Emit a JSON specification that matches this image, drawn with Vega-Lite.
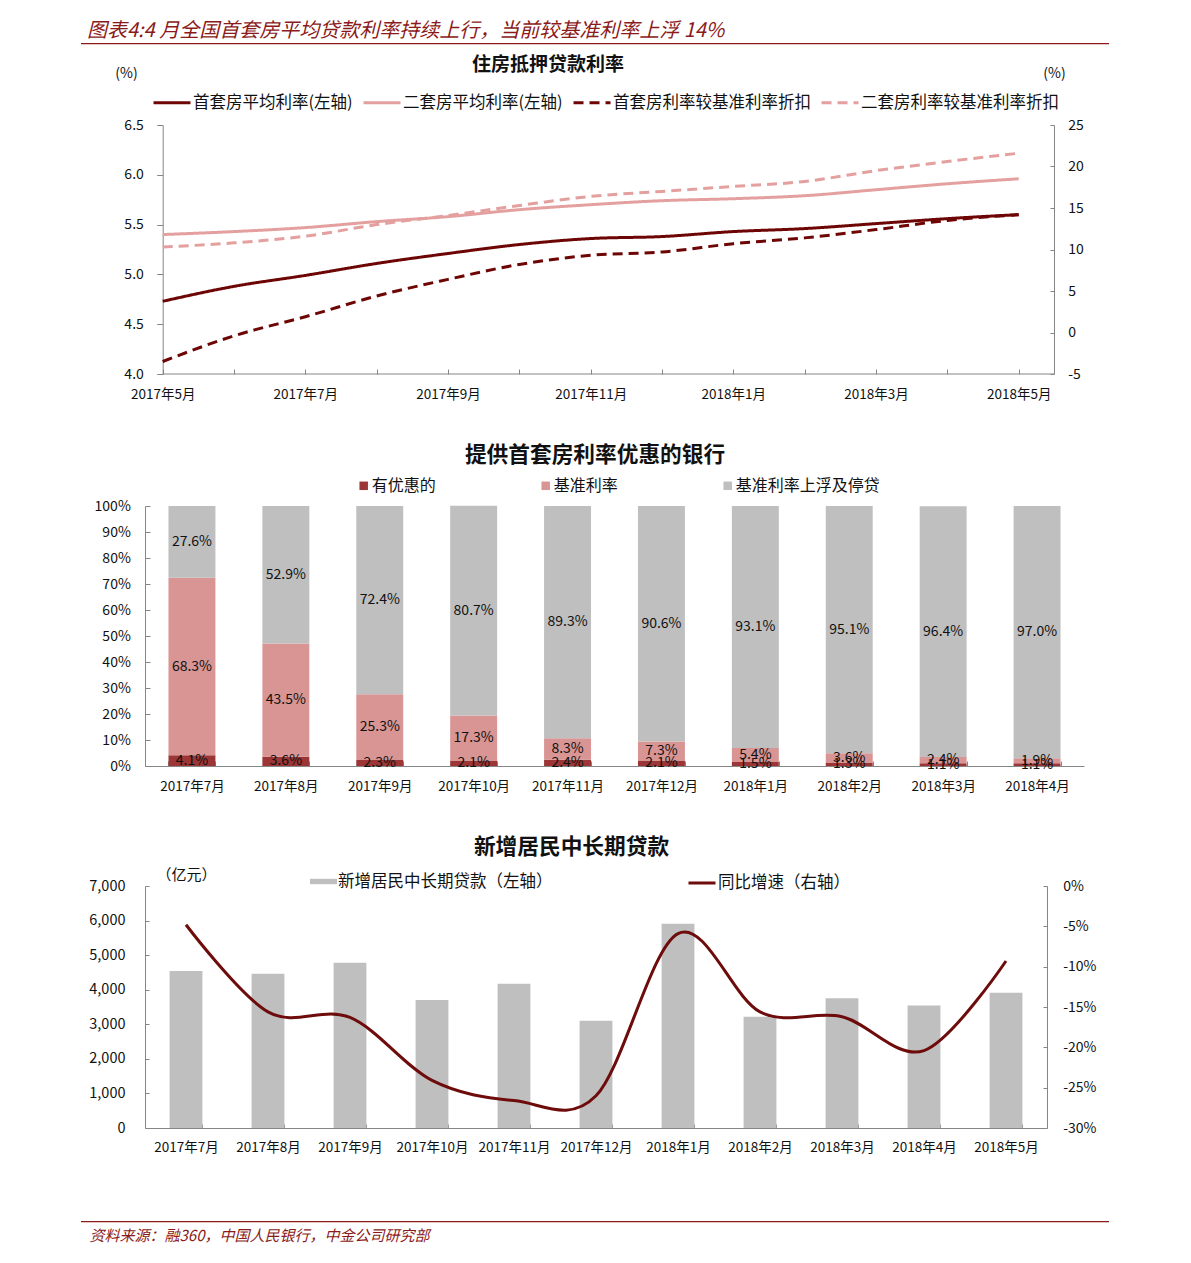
{
  "$schema": "https://vega.github.io/schema/vega-lite/v6.json",
  "background": "white",
  "padding": {"left": 80, "top": 21, "right": 20, "bottom": 10},
  "autosize": {"type": "pad"},
  "title": {"text": "图表4:4 月全国首套房平均贷款利率持续上行，当前较基准利率上浮 14%", "anchor": "start", "frame": "bounds", "dx": 6.5, "offset": 1.5, "fontSize": 20, "fontStyle": "italic", "fontWeight": "normal", "color": "#8B1A1A", "font": "Noto Sans CJK SC"},
  "spacing": 44,
  "resolve": {"scale": {"color": "independent", "stroke": "independent", "strokeDash": "independent"}, "legend": {"color": "independent", "stroke": "independent", "strokeDash": "independent"}},
  "config": {
    "font": "Noto Sans CJK SC",
    "view": {"stroke": null},
    "axis": {"grid": false, "domainColor": "#868686", "tickColor": "#868686", "labelColor": "#111111", "titleColor": "#111111", "titleFontWeight": "normal", "labelFontSize": 14, "labelFlush": false, "labelOverlap": false},
    "legend": {"labelColor": "#111111", "padding": 0},
    "title": {"color": "#111111"}
  },
  "datasets": {
    "rates": [
      {"m": 0, "axis": "left", "series": "首套房平均利率(左轴)", "value": 4.73},
      {"m": 1, "axis": "left", "series": "首套房平均利率(左轴)", "value": 4.88},
      {"m": 2, "axis": "left", "series": "首套房平均利率(左轴)", "value": 4.99},
      {"m": 3, "axis": "left", "series": "首套房平均利率(左轴)", "value": 5.11},
      {"m": 4, "axis": "left", "series": "首套房平均利率(左轴)", "value": 5.21},
      {"m": 5, "axis": "left", "series": "首套房平均利率(左轴)", "value": 5.30},
      {"m": 6, "axis": "left", "series": "首套房平均利率(左轴)", "value": 5.36},
      {"m": 7, "axis": "left", "series": "首套房平均利率(左轴)", "value": 5.38},
      {"m": 8, "axis": "left", "series": "首套房平均利率(左轴)", "value": 5.43},
      {"m": 9, "axis": "left", "series": "首套房平均利率(左轴)", "value": 5.46},
      {"m": 10, "axis": "left", "series": "首套房平均利率(左轴)", "value": 5.51},
      {"m": 11, "axis": "left", "series": "首套房平均利率(左轴)", "value": 5.56},
      {"m": 12, "axis": "left", "series": "首套房平均利率(左轴)", "value": 5.60},
      {"m": 0, "axis": "left", "series": "二套房平均利率(左轴)", "value": 5.40},
      {"m": 1, "axis": "left", "series": "二套房平均利率(左轴)", "value": 5.43},
      {"m": 2, "axis": "left", "series": "二套房平均利率(左轴)", "value": 5.47},
      {"m": 3, "axis": "left", "series": "二套房平均利率(左轴)", "value": 5.53},
      {"m": 4, "axis": "left", "series": "二套房平均利率(左轴)", "value": 5.58},
      {"m": 5, "axis": "left", "series": "二套房平均利率(左轴)", "value": 5.65},
      {"m": 6, "axis": "left", "series": "二套房平均利率(左轴)", "value": 5.70},
      {"m": 7, "axis": "left", "series": "二套房平均利率(左轴)", "value": 5.74},
      {"m": 8, "axis": "left", "series": "二套房平均利率(左轴)", "value": 5.76},
      {"m": 9, "axis": "left", "series": "二套房平均利率(左轴)", "value": 5.79},
      {"m": 10, "axis": "left", "series": "二套房平均利率(左轴)", "value": 5.85},
      {"m": 11, "axis": "left", "series": "二套房平均利率(左轴)", "value": 5.91},
      {"m": 12, "axis": "left", "series": "二套房平均利率(左轴)", "value": 5.96},
      {"m": 0, "axis": "right", "series": "首套房利率较基准利率折扣", "value": -3.5},
      {"m": 1, "axis": "right", "series": "首套房利率较基准利率折扣", "value": -0.4},
      {"m": 2, "axis": "right", "series": "首套房利率较基准利率折扣", "value": 1.9},
      {"m": 3, "axis": "right", "series": "首套房利率较基准利率折扣", "value": 4.4},
      {"m": 4, "axis": "right", "series": "首套房利率较基准利率折扣", "value": 6.4},
      {"m": 5, "axis": "right", "series": "首套房利率较基准利率折扣", "value": 8.2},
      {"m": 6, "axis": "right", "series": "首套房利率较基准利率折扣", "value": 9.3},
      {"m": 7, "axis": "right", "series": "首套房利率较基准利率折扣", "value": 9.7},
      {"m": 8, "axis": "right", "series": "首套房利率较基准利率折扣", "value": 10.7},
      {"m": 9, "axis": "right", "series": "首套房利率较基准利率折扣", "value": 11.4},
      {"m": 10, "axis": "right", "series": "首套房利率较基准利率折扣", "value": 12.4},
      {"m": 11, "axis": "right", "series": "首套房利率较基准利率折扣", "value": 13.5},
      {"m": 12, "axis": "right", "series": "首套房利率较基准利率折扣", "value": 14.2},
      {"m": 0, "axis": "right", "series": "二套房利率较基准利率折扣", "value": 10.3},
      {"m": 1, "axis": "right", "series": "二套房利率较基准利率折扣", "value": 10.8},
      {"m": 2, "axis": "right", "series": "二套房利率较基准利率折扣", "value": 11.6},
      {"m": 3, "axis": "right", "series": "二套房利率较基准利率折扣", "value": 13.0},
      {"m": 4, "axis": "right", "series": "二套房利率较基准利率折扣", "value": 14.1},
      {"m": 5, "axis": "right", "series": "二套房利率较基准利率折扣", "value": 15.3},
      {"m": 6, "axis": "right", "series": "二套房利率较基准利率折扣", "value": 16.4},
      {"m": 7, "axis": "right", "series": "二套房利率较基准利率折扣", "value": 17.0},
      {"m": 8, "axis": "right", "series": "二套房利率较基准利率折扣", "value": 17.6},
      {"m": 9, "axis": "right", "series": "二套房利率较基准利率折扣", "value": 18.2},
      {"m": 10, "axis": "right", "series": "二套房利率较基准利率折扣", "value": 19.5},
      {"m": 11, "axis": "right", "series": "二套房利率较基准利率折扣", "value": 20.6},
      {"m": 12, "axis": "right", "series": "二套房利率较基准利率折扣", "value": 21.6}
    ],
    "banks": [
      {"month": "2017年7月", "cat": "有优惠的", "order": 1, "pct": 0.041},
      {"month": "2017年7月", "cat": "基准利率", "order": 2, "pct": 0.683},
      {"month": "2017年7月", "cat": "基准利率上浮及停贷", "order": 3, "pct": 0.276},
      {"month": "2017年8月", "cat": "有优惠的", "order": 1, "pct": 0.036},
      {"month": "2017年8月", "cat": "基准利率", "order": 2, "pct": 0.435},
      {"month": "2017年8月", "cat": "基准利率上浮及停贷", "order": 3, "pct": 0.529},
      {"month": "2017年9月", "cat": "有优惠的", "order": 1, "pct": 0.023},
      {"month": "2017年9月", "cat": "基准利率", "order": 2, "pct": 0.253},
      {"month": "2017年9月", "cat": "基准利率上浮及停贷", "order": 3, "pct": 0.724},
      {"month": "2017年10月", "cat": "有优惠的", "order": 1, "pct": 0.021},
      {"month": "2017年10月", "cat": "基准利率", "order": 2, "pct": 0.173},
      {"month": "2017年10月", "cat": "基准利率上浮及停贷", "order": 3, "pct": 0.807},
      {"month": "2017年11月", "cat": "有优惠的", "order": 1, "pct": 0.024},
      {"month": "2017年11月", "cat": "基准利率", "order": 2, "pct": 0.083},
      {"month": "2017年11月", "cat": "基准利率上浮及停贷", "order": 3, "pct": 0.893},
      {"month": "2017年12月", "cat": "有优惠的", "order": 1, "pct": 0.021},
      {"month": "2017年12月", "cat": "基准利率", "order": 2, "pct": 0.073},
      {"month": "2017年12月", "cat": "基准利率上浮及停贷", "order": 3, "pct": 0.906},
      {"month": "2018年1月", "cat": "有优惠的", "order": 1, "pct": 0.015},
      {"month": "2018年1月", "cat": "基准利率", "order": 2, "pct": 0.054},
      {"month": "2018年1月", "cat": "基准利率上浮及停贷", "order": 3, "pct": 0.931},
      {"month": "2018年2月", "cat": "有优惠的", "order": 1, "pct": 0.013},
      {"month": "2018年2月", "cat": "基准利率", "order": 2, "pct": 0.036},
      {"month": "2018年2月", "cat": "基准利率上浮及停贷", "order": 3, "pct": 0.951},
      {"month": "2018年3月", "cat": "有优惠的", "order": 1, "pct": 0.011},
      {"month": "2018年3月", "cat": "基准利率", "order": 2, "pct": 0.024},
      {"month": "2018年3月", "cat": "基准利率上浮及停贷", "order": 3, "pct": 0.964},
      {"month": "2018年4月", "cat": "有优惠的", "order": 1, "pct": 0.011},
      {"month": "2018年4月", "cat": "基准利率", "order": 2, "pct": 0.019},
      {"month": "2018年4月", "cat": "基准利率上浮及停贷", "order": 3, "pct": 0.970}
    ],
    "loans": [
      {"month": "2017年7月", "loan": 4540, "yoy": -4.8},
      {"month": "2017年8月", "loan": 4460, "yoy": -15.6},
      {"month": "2017年9月", "loan": 4780, "yoy": -16.3},
      {"month": "2017年10月", "loan": 3700, "yoy": -24.1},
      {"month": "2017年11月", "loan": 4170, "yoy": -26.6},
      {"month": "2017年12月", "loan": 3100, "yoy": -26.0},
      {"month": "2018年1月", "loan": 5910, "yoy": -5.9},
      {"month": "2018年2月", "loan": 3220, "yoy": -15.6},
      {"month": "2018年3月", "loan": 3750, "yoy": -16.2},
      {"month": "2018年4月", "loan": 3540, "yoy": -20.4},
      {"month": "2018年5月", "loan": 3910, "yoy": -9.3}
    ]
  },
  "vconcat": [
    {
      "width": 909,
      "height": 249,
      "title": {"text": "住房抵押贷款利率", "frame": "group", "anchor": "middle", "dx": -51.5, "offset": -32, "fontSize": 19, "fontWeight": "bold"},
      "layer": [
        {
          "data": {"name": "rates"},
          "transform": [{"filter": "datum.axis == 'left'"}],
          "mark": {"type": "line", "interpolate": "monotone", "strokeWidth": 3},
          "encoding": {
            "x": {"field": "m", "type": "quantitative", "title": null, "scale": {"domain": [-0.248, 12.495], "nice": false, "zero": false},
              "axis": {"values": [0,1,2,3,4,5,6,7,8,9,10,11,12], "labelExpr": "datum.value % 2 == 0 ? (datum.value < 8 ? '2017年' + (datum.value + 5) + '月' : '2018年' + (datum.value - 7) + '月') : ''", "domain": false, "tickSize": -5, "labelPadding": 18, "labelFontSize": 13.5, "title": null}},
            "y": {"field": "value", "type": "quantitative", "title": "(%)", "scale": {"domain": [4, 6.5], "nice": false, "zero": false},
              "axis": {"orient": "left", "offset": -17.7, "values": [4, 4.5, 5, 5.5, 6, 6.5], "format": ".1f", "tickSize": 6, "labelPadding": 13.4, "titleAngle": 0, "titleX": -36.7, "titleY": -52, "titleAlign": "center", "titleBaseline": "middle", "titleFontSize": 14}},
            "color": {"field": "series", "type": "nominal", "title": null,
              "scale": {"domain": ["首套房平均利率(左轴)", "二套房平均利率(左轴)", "首套房利率较基准利率折扣", "二套房利率较基准利率折扣"], "range": ["#6E0505", "#E3A09E", "#6E0505", "#E3A09E"]},
              "legend": {"orient": "none", "legendX": 7, "legendY": -42.5, "direction": "horizontal", "title": null, "symbolType": "stroke", "symbolSize": 1369, "symbolStrokeWidth": 3, "labelFontSize": 16.5, "labelOffset": 1, "columnPadding": 4, "labelLimit": 400, "padding": 0}},
            "strokeDash": {"field": "series", "type": "nominal", "title": null,
              "scale": {"domain": ["首套房平均利率(左轴)", "二套房平均利率(左轴)", "首套房利率较基准利率折扣", "二套房利率较基准利率折扣"], "range": [[1, 0], [1, 0], [10, 6], [10, 6]]},
              "legend": {"orient": "none", "legendX": 7, "legendY": -42.5, "direction": "horizontal", "title": null, "symbolType": "stroke", "symbolSize": 1369, "symbolStrokeWidth": 3, "labelFontSize": 16.5, "labelOffset": 1, "columnPadding": 4, "labelLimit": 400, "padding": 0}}
          }
        },
        {
          "data": {"name": "rates"},
          "transform": [{"filter": "datum.axis == 'right'"}],
          "mark": {"type": "line", "interpolate": "monotone", "strokeWidth": 3},
          "encoding": {
            "x": {"field": "m", "type": "quantitative", "title": null, "scale": {"domain": [-0.248, 12.495], "nice": false, "zero": false}},
            "y": {"field": "value", "type": "quantitative", "title": "(%)", "scale": {"domain": [-5, 25], "nice": false, "zero": false},
              "axis": {"orient": "right", "values": [-5, 0, 5, 10, 15, 20, 25], "labelExpr": "'' + datum.value", "tickSize": -4, "labelPadding": 17.7, "titleAngle": 0, "titleX": 0, "titleY": -52, "titleAlign": "center", "titleBaseline": "middle", "titleFontSize": 14}},
            "color": {"field": "series", "type": "nominal", "title": null},
            "strokeDash": {"field": "series", "type": "nominal", "title": null}
          }
        },
        {
          "data": {"values": [{}]},
          "mark": {"type": "rule", "color": "#868686", "strokeWidth": 1},
          "encoding": {
            "x": {"datum": 0, "type": "quantitative", "scale": {"domain": [-0.248, 12.495], "nice": false, "zero": false}},
            "x2": {"datum": 12.495},
            "y": {"datum": 4, "type": "quantitative", "scale": {"domain": [4, 6.5], "nice": false, "zero": false}, "axis": null}
          }
        },
        {
          "data": {"values": [{}]},
          "mark": {"type": "rule", "color": "#8B1A1A", "strokeWidth": 1.2},
          "encoding": {
            "x": {"datum": -1.145, "type": "quantitative", "scale": {"domain": [-0.248, 12.495], "nice": false, "zero": false}},
            "x2": {"datum": 13.266},
            "y": {"datum": 7.318, "type": "quantitative", "scale": {"domain": [4, 6.5], "nice": false, "zero": false}, "axis": null}
          }
        }
      ],
      "resolve": {"scale": {"y": "independent"}}
    },
    {
      "width": 939,
      "height": 260,
      "title": {"text": "提供首套房利率优惠的银行", "frame": "group", "anchor": "middle", "dx": -19.5, "offset": 11, "fontSize": 21.7, "fontWeight": "bold"},
      "data": {"name": "banks"},
      "layer": [
        {
          "mark": {"type": "bar"},
          "encoding": {
            "x": {"field": "month", "type": "ordinal", "sort": null, "title": null, "scale": {"paddingInner": 0.5, "paddingOuter": 0.25},
              "axis": {"labelAngle": 0, "tickBand": "extent", "tickSize": -5, "labelPadding": 18.25, "labelFontSize": 13.5}},
            "y": {"field": "pct", "type": "quantitative", "stack": "zero", "title": null, "scale": {"domain": [0, 1], "nice": false},
              "axis": {"values": [0, 0.1, 0.2, 0.3, 0.4, 0.5, 0.6, 0.7, 0.8, 0.9, 1], "tickCount": 11, "labelOverlap": false, "format": ".0%", "tickSize": -5, "labelPadding": 19.7, "labelFontSize": 14}},
            "color": {"field": "cat", "type": "nominal", "title": null,
              "scale": {"domain": ["有优惠的", "基准利率", "基准利率上浮及停贷"], "range": ["#9C3535", "#D99594", "#BFBFBF"]},
              "legend": {"orient": "none", "legendX": 210.7, "legendY": -28.2, "direction": "horizontal", "columns": 3, "gridAlign": "all", "title": null, "symbolType": "square", "symbolSize": 72, "symbolStrokeWidth": 0, "labelFontSize": 16, "labelOffset": 0, "columnPadding": 21, "labelLimit": 300, "padding": 0}},
            "order": {"field": "order", "type": "quantitative"}
          }
        },
        {
          "transform": [
            {"stack": "pct", "groupby": ["month"], "sort": [{"field": "order", "order": "ascending"}], "as": ["y0", "y1"]},
            {"calculate": "(datum.y0 + datum.y1) / 2", "as": "ymid"}
          ],
          "mark": {"type": "text", "fontSize": 14, "color": "#111111"},
          "encoding": {
            "x": {"field": "month", "type": "ordinal", "sort": null, "title": null},
            "y": {"field": "ymid", "type": "quantitative", "title": null,
              "axis": {"values": [0, 0.1, 0.2, 0.3, 0.4, 0.5, 0.6, 0.7, 0.8, 0.9, 1], "tickCount": 11, "labelOverlap": false, "format": ".0%", "tickSize": -5, "labelPadding": 19.7, "labelFontSize": 14}},
            "text": {"field": "pct", "type": "quantitative", "format": ".1%"}
          }
        }
      ]
    },
    {
      "width": 902,
      "height": 242,
      "title": {"text": "新增居民中长期贷款", "frame": "group", "anchor": "middle", "dx": -24.5, "offset": 8.3, "fontSize": 21.7, "fontWeight": "bold"},
      "data": {"name": "loans"},
      "layer": [
        {
          "mark": {"type": "bar", "color": "#BFBFBF"},
          "encoding": {
            "x": {"field": "month", "type": "ordinal", "sort": null, "scale": {"paddingInner": 0.6, "paddingOuter": 0.3},
              "axis": {"title": "资料来源：融360，中国人民银行，中金公司研究部", "titleX": -56, "titleY": 107, "titleAlign": "left", "titleAnchor": "start", "titleBaseline": "middle", "titleFontStyle": "italic", "titleColor": "#8B1A1A", "titleFontSize": 15, "titleFontWeight": "normal", "labelAngle": 0, "tickBand": "extent", "tickSize": -4, "labelPadding": 16, "labelFontSize": 13.5}},
            "y": {"field": "loan", "type": "quantitative", "scale": {"domain": [0, 7000], "nice": false},
              "axis": {"orient": "left", "values": [0, 1000, 2000, 3000, 4000, 5000, 6000, 7000], "format": ",.0f", "tickSize": -4, "labelPadding": 24, "title": "（亿元）", "titleAngle": 0, "titleX": 41, "titleY": -11.7, "titleAlign": "center", "titleBaseline": "middle", "titleFontSize": 15, "labelFontSize": 14.5}},
            "color": {"datum": "新增居民中长期贷款（左轴）", "type": "nominal", "scale": {"range": ["#BFBFBF"]},
              "legend": {"orient": "none", "legendX": 165, "legendY": -18, "title": null, "symbolType": "M-1,-0.2L1,-0.2L1,0.2L-1,0.2Z", "symbolSize": 729, "symbolStrokeWidth": 0, "labelFontSize": 16.5, "labelOffset": 1, "labelLimit": 300, "padding": 0}}
          }
        },
        {
          "mark": {"type": "line", "interpolate": "cardinal", "strokeWidth": 3},
          "encoding": {
            "x": {"field": "month", "type": "ordinal", "sort": null, "scale": {"paddingInner": 0.6, "paddingOuter": 0.3}, "axis": null},
            "y": {"field": "yoy", "type": "quantitative", "scale": {"domain": [-30, 0], "nice": false, "zero": false},
              "axis": {"orient": "right", "values": [-30, -25, -20, -15, -10, -5, 0], "labelExpr": "datum.value + '%'", "tickSize": -4, "labelPadding": 19.7, "title": null, "labelFontSize": 14}},
            "stroke": {"datum": "同比增速（右轴）", "type": "nominal", "scale": {"range": ["#6E0B0B"]},
              "legend": {"orient": "none", "legendX": 542, "legendY": -18, "title": null, "symbolType": "stroke", "symbolSize": 729, "symbolStrokeWidth": 3, "labelFontSize": 16.5, "labelOffset": 1, "labelLimit": 300, "padding": 0}}
          }
        },
        {
          "data": {"values": [{}]},
          "mark": {"type": "rule", "color": "#8B1A1A", "strokeWidth": 1.2},
          "encoding": {
            "x": {"datum": -1.28, "type": "quantitative", "scale": {"domain": [-0.5, 10.5], "nice": false, "zero": false}, "axis": null},
            "x2": {"datum": 11.256},
            "y": {"datum": -2710, "type": "quantitative", "scale": {"domain": [0, 7000], "nice": false, "zero": false}, "axis": null}
          }
        }
      ],
      "resolve": {"scale": {"x": "independent", "y": "independent"}}
    }
  ]
}
